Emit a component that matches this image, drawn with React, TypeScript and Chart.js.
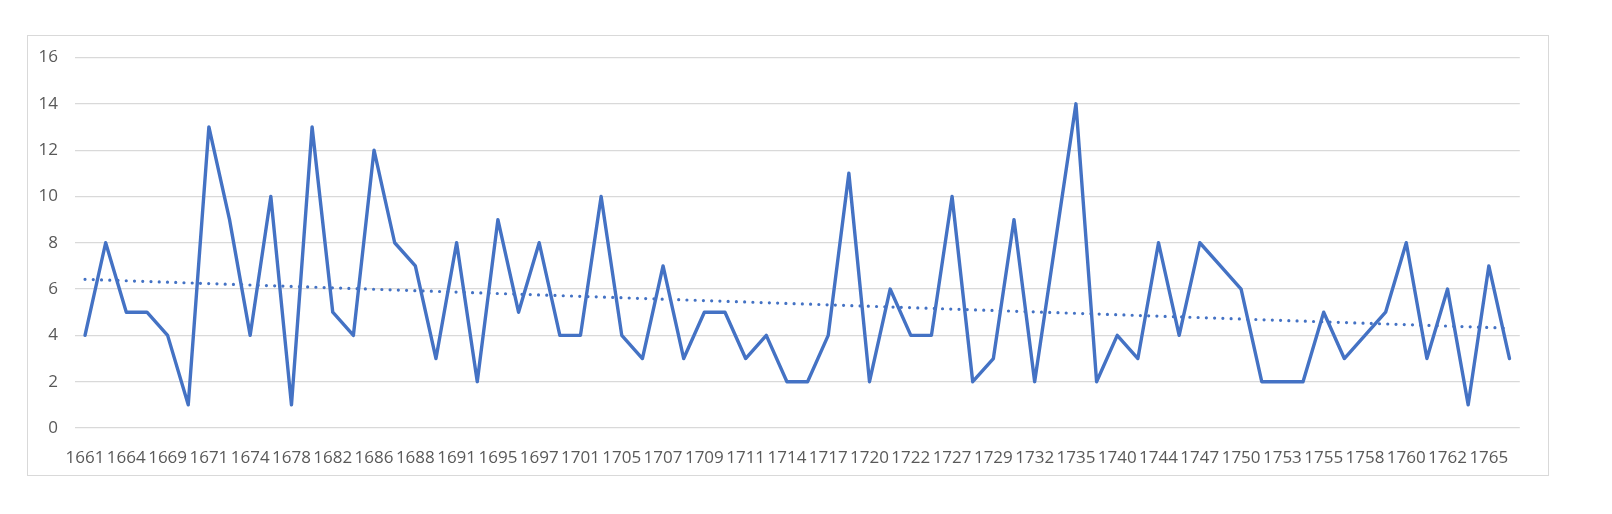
import React, { useEffect, useRef } from "react";
import { Chart, registerables } from "chart.js";

Chart.register(...registerables);

// Categories (years). Only every other one is labelled on the axis, as in the reference.
const categories: number[] = [
  1661, 1662, 1664, 1666, 1669, 1670, 1671, 1672, 1674, 1676,
  1678, 1680, 1682, 1684, 1686, 1687, 1688, 1690, 1691, 1693,
  1695, 1696, 1697, 1699, 1701, 1703, 1705, 1706, 1707, 1708,
  1709, 1710, 1711, 1712, 1714, 1715, 1717, 1718, 1720, 1721,
  1722, 1724, 1727, 1728, 1729, 1730, 1732, 1734, 1735, 1737,
  1740, 1742, 1744, 1745, 1747, 1748, 1750, 1752, 1753, 1754,
  1755, 1756, 1758, 1759, 1760, 1761, 1762, 1763, 1765, 1766,
];

const values: number[] = [
  4, 8, 5, 5, 4, 1, 13, 9, 4, 10,
  1, 13, 5, 4, 12, 8, 7, 3, 8, 2,
  9, 5, 8, 4, 4, 10, 4, 3, 7, 3,
  5, 5, 3, 4, 2, 2, 4, 11, 2, 6,
  4, 4, 10, 2, 3, 9, 2, 8, 14, 2,
  4, 3, 8, 4, 8, 7, 6, 2, 2, 2,
  5, 3, 4, 5, 8, 3, 6, 1, 7, 3,
];

// Linear trendline end values (first and last category).
const trendEnds: number[] = [6.42, 4.31];

const yMin = 0;
const yMax = 16;
const yStep = 2;

const FONT = "'Open Sans', 'Liberation Sans', sans-serif";

export default function App() {
  const ref = useRef<HTMLCanvasElement>(null);

  useEffect(() => {
    const n = categories.length;
    const trend = categories.map((_, i) =>
      i === 0 ? trendEnds[0] : i === n - 1 ? trendEnds[1] : null
    );
    const chart = new Chart(ref.current!, {
      type: "line",
      data: {
        labels: categories.map(String),
        datasets: [
          {
            data: values,
            borderColor: "#4472C4",
            backgroundColor: "#4472C4",
            borderWidth: 3.4,
            pointRadius: 0,
            tension: 0,
            borderJoinStyle: "round",
            borderCapStyle: "round",
            fill: false,
          },
          {
            data: trend,
            borderColor: "#4472C4",
            backgroundColor: "#4472C4",
            borderWidth: 3.2,
            borderDash: [0, 8.25],
            borderCapStyle: "round",
            pointRadius: 0,
            spanGaps: true,
            tension: 0,
            fill: false,
          },
        ],
      },
      options: {
        responsive: true,
        maintainAspectRatio: false,
        animation: false,
        layout: { padding: { left: 0, right: 92.2, top: 57.5, bottom: 0 } },
        plugins: {
          legend: { display: false },
          tooltip: { enabled: false },
        },
        scales: {
          x: {
            offset: true,
            grid: { display: false, drawTicks: false },
            border: { display: false },
            ticks: {
              autoSkip: false,
              maxRotation: 0,
              minRotation: 0,
              padding: 20,
              color: "#595959",
              font: { family: FONT, size: 17 },
              callback: (_v: any, i: number) => (i % 2 === 0 ? String(categories[i]) : ""),
            },
            afterFit: (s: any) => {
              s.height = 86;
            },
          },
          y: {
            min: yMin,
            max: yMax,
            ticks: {
              stepSize: yStep,
              padding: 16.7,
              color: "#595959",
              font: { family: FONT, size: 17 },
            },
            grid: { color: "#d9d9d9", lineWidth: 1.2, drawTicks: false },
            border: { display: false },
            afterFit: (s: any) => {
              s.width = 74.7;
            },
          },
        },
      },
    });
    return () => chart.destroy();
  }, []);

  return (
    <div
      style={{
        position: "absolute",
        left: 0,
        top: 0,
        width: 1612,
        height: 514,
        background: "#ffffff",
      }}
    >
      <div
        style={{
          position: "absolute",
          left: 26.5,
          top: 34.5,
          width: 1522.5,
          height: 441,
          border: "1.3px solid #d9d9d9",
          boxSizing: "border-box",
        }}
      />
      <div style={{ position: "absolute", left: 0, top: 0, width: 1612, height: 514 }}>
        <canvas ref={ref} style={{ display: "block" }} />
      </div>
    </div>
  );
}
